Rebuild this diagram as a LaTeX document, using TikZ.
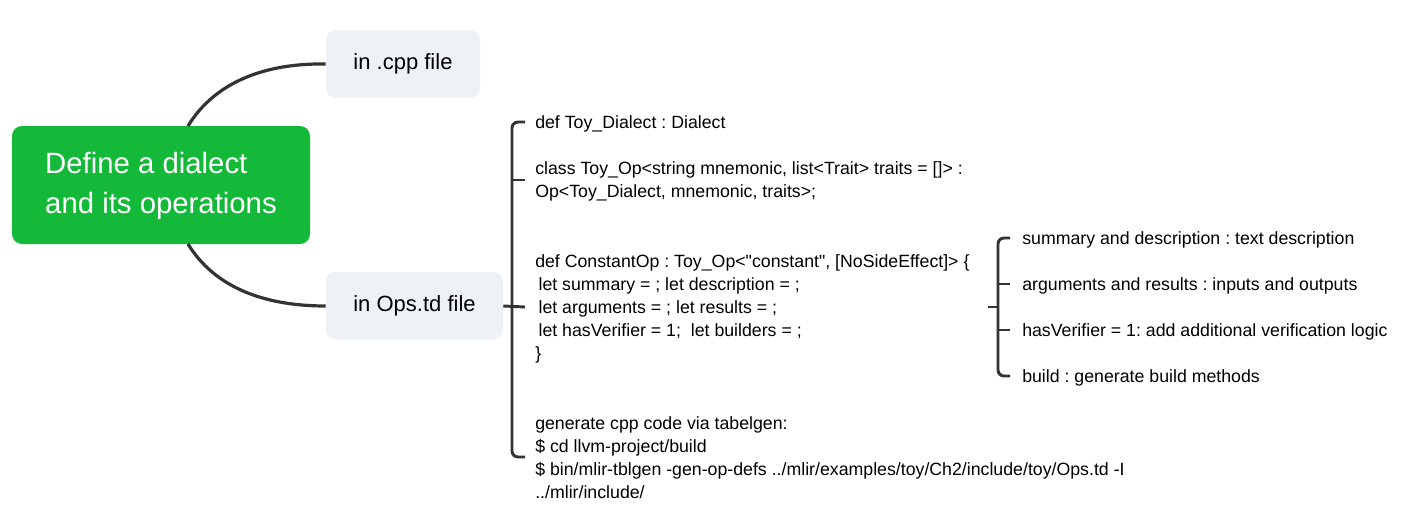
\documentclass[tikz,border=0pt]{standalone}
\usepackage{fontspec}
\setmainfont{Liberation Sans}
\newfontfamily\codefont{Liberation Sans}
\usetikzlibrary{calc}
\definecolor{rootgreen}{HTML}{14B93A}
\definecolor{boxgray}{HTML}{EEF1F5}
\definecolor{linegray}{HTML}{333333}
\frenchspacing
\begin{document}
\begin{tikzpicture}[x=0.75pt,y=-0.75pt,
  rootbox/.style={fill=rootgreen, rounded corners=7.5pt, minimum width=223.5pt,
    minimum height=88.5pt, inner sep=0pt, align=left, text=white,
    font=\fontsize{22pt}{30pt}\selectfont},
  subbox/.style={fill=boxgray, rounded corners=7.5pt, minimum height=51pt,
    inner sep=0pt, font=\fontsize{16.5pt}{20pt}\selectfont},
  codetext/.style={anchor=west, inner sep=0pt, align=left,
    font=\codefont\fontsize{13.3pt}{17.25pt}\selectfont},
  branch/.style={draw=linegray, line width=2.4pt},
  brace/.style={draw=linegray, line width=2.2pt, rounded corners=4.5pt},
  tick/.style={draw=linegray, line width=2.2pt}
]
\useasboundingbox (0,0) rectangle (1415,511);

\coordinate (rtop) at (188,126);
\coordinate (rbot) at (188,244);

\node[rootbox] (root) at (161,185) {\raisebox{-2pt}{\begin{tabular}{@{}l@{}}Define a dialect\\and its operations\end{tabular}}};
\node[subbox, minimum width=115.5pt] (cpp) at (403,64) {\raisebox{-1pt}{in .cpp file}};
\node[subbox, minimum width=132.75pt] (ops) at (414.5,306) {\raisebox{-1.5pt}{in Ops.td file}};

\draw[branch] (rtop) .. controls (215,82) and (265,63) .. (cpp.west);
\draw[branch] (rbot) .. controls (215,288) and (265,306) .. (ops.west);

% first bracket
\coordinate (b1top) at (525,122);
\coordinate (b1bot) at (525,457);
\draw[brace] (b1top) -- (512,122) -- (512,457) -- (b1bot);
\coordinate (b1t2) at (525,180);
\coordinate (b1m) at (525,307);
\draw[tick] (512,180) -- (b1t2);
\draw[tick] (ops.east) -- (b1m);

\node[codetext] (c1) at (535,123.5) {def Toy\_Dialect : Dialect};
\node[codetext] (c2) at (535,181) {class Toy\_Op<string mnemonic, list<Trait> traits = []> :\\Op<Toy\_Dialect, mnemonic, traits>;};
\node[codetext] (c3) at (535,308.5) {def ConstantOp : Toy\_Op<"constant", [NoSideEffect]> \{\\
\hspace{2.5pt}let summary = ; let description = ;\\
\hspace{2.5pt}let arguments = ; let results = ;\\
\hspace{2.5pt}let hasVerifier = 1;\ \ let builders = ;\\
\}};
\node[codetext] (c4) at (535,458) {generate cpp code via tabelgen:\\
\$ cd llvm-project/build\\
\$ bin/mlir-tblgen -gen-op-defs ../mlir/examples/toy/Ch2/include/toy/Ops.td -I\\
../mlir/include/};

% second bracket
\coordinate (b2src) at (988,307);
\coordinate (b2top) at (1010,238);
\coordinate (b2bot) at (1010,376);
\draw[brace] (b2top) -- (998,238) -- (998,376) -- (b2bot);
\coordinate (b2a) at (1010,284);
\coordinate (b2b) at (1010,330);
\draw[tick] (998,284) -- (b2a);
\draw[tick] (998,330) -- (b2b);
\draw[tick] (b2src) -- (998,307);

\node[codetext] (d1) at (1022,239.5) {summary and description : text description};
\node[codetext] (d2) at (1022,285.5) {arguments and results : inputs and outputs};
\node[codetext] (d3) at (1022,331.5) {hasVerifier = 1: add additional verification logic};
\node[codetext] (d4) at (1022,377.5) {build : generate build methods};
\end{tikzpicture}
\end{document}
